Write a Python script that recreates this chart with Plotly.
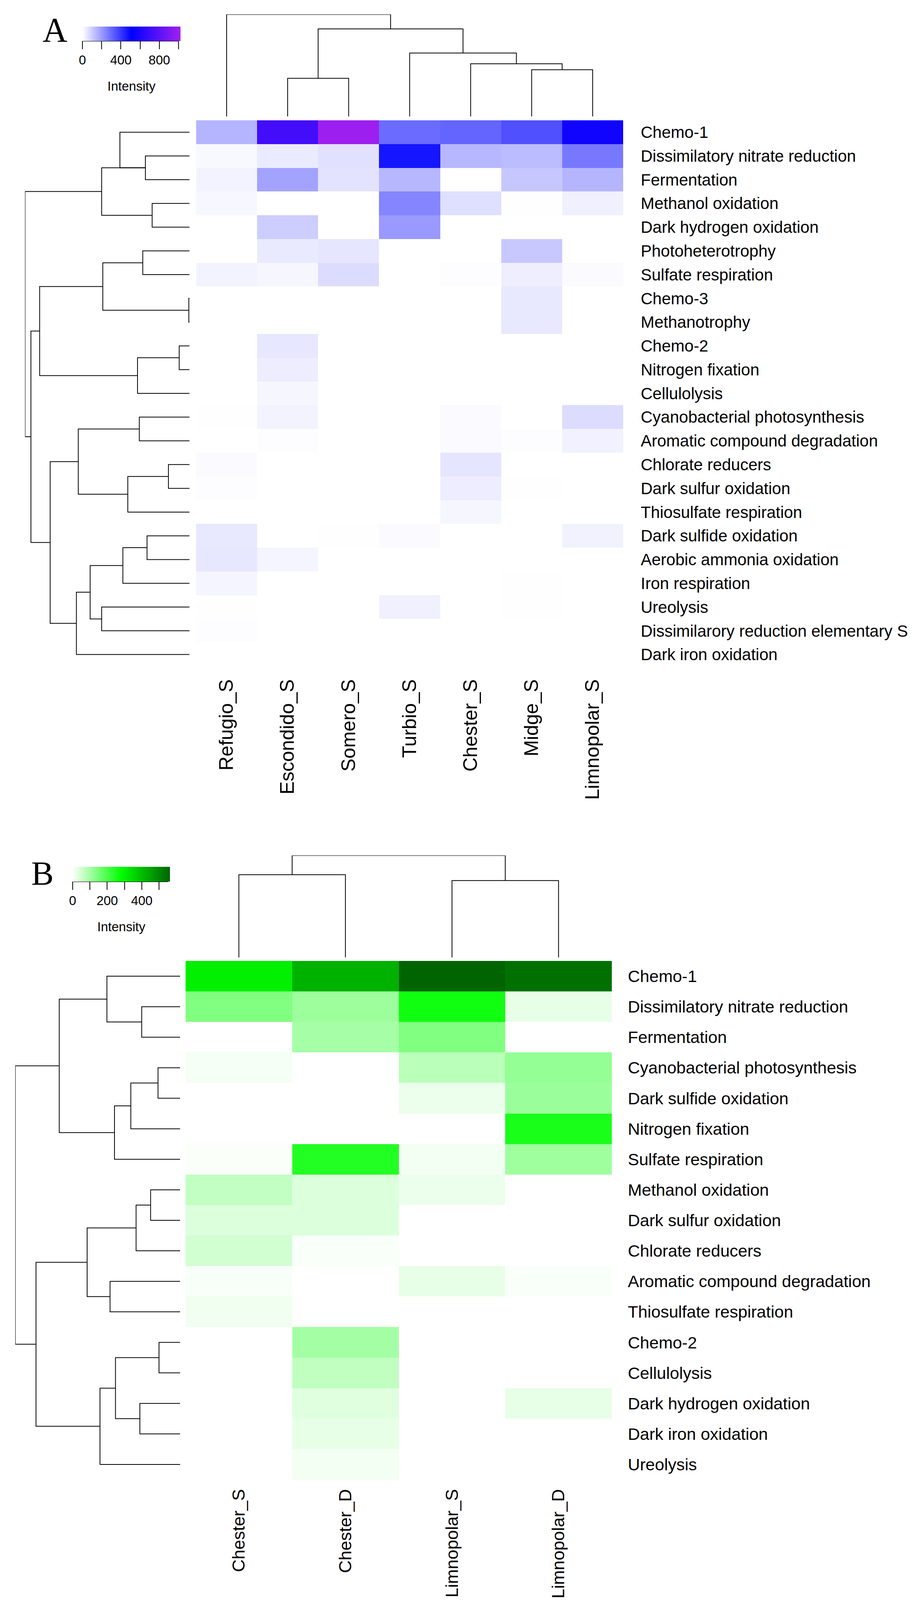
import plotly.graph_objects as go
import numpy as np

W, H = 2342, 4240

# ---------------- Panel A data ----------------
A_ROWS = ["Chemo-1", "Dissimilatory nitrate reduction", "Fermentation", "Methanol oxidation",
          "Dark hydrogen oxidation", "Photoheterotrophy", "Sulfate respiration", "Chemo-3",
          "Methanotrophy", "Chemo-2", "Nitrogen fixation", "Cellulolysis",
          "Cyanobacterial photosynthesis", "Aromatic compound degradation", "Chlorate reducers",
          "Dark sulfur oxidation", "Thiosulfate respiration", "Dark sulfide oxidation",
          "Aerobic ammonia oxidation", "Iron respiration", "Ureolysis",
          "Dissimilarory reduction elementary S", "Dark iron oxidation"]
A_COLS = ["Refugio_S", "Escondido_S", "Somero_S", "Turbio_S", "Chester_S", "Midge_S", "Limnopolar_S"]

A_REFUGIO_S    = [148, 15, 24, 16, 0, 1, 24, 0, 0, 0, 0, 0, 2, 0, 8, 4, 0, 46, 48, 20, 3, 4, 1]
A_ESCONDIDO_S  = [724, 40, 184, 1, 100, 42, 18, 0, 0, 48, 36, 18, 24, 4, 0, 0, 0, 0, 20, 0, 0, 0, 0]
A_SOMERO_S     = [1010, 60, 56, 0, 0, 50, 70, 0, 0, 0, 0, 0, 0, 0, 0, 0, 0, 3, 0, 0, 0, 0, 0]
A_TURBIO_S     = [296, 468, 144, 244, 204, 0, 0, 0, 0, 0, 0, 0, 0, 0, 0, 0, 0, 8, 0, 0, 30, 0, 0]
A_CHESTER_S    = [310, 144, 0, 64, 0, 0, 4, 0, 0, 0, 0, 0, 10, 10, 52, 36, 18, 0, 0, 0, 0, 0, 0]
A_MIDGE_S      = [350, 136, 112, 2, 0, 110, 34, 46, 46, 0, 0, 0, 0, 4, 0, 2, 0, 0, 0, 2, 2, 0, 0]
A_LIMNOPOLAR_S = [560, 270, 148, 30, 0, 0, 10, 0, 0, 0, 0, 0, 70, 28, 0, 0, 0, 26, 0, 0, 0, 0, 0]
A_MAX = 1020
A_KEY_TICKS = [0, 200, 400, 600, 800, 1000]
A_KEY_LABELS = ["0", "", "400", "", "800", ""]

# row dendrogram A (merge left, merge right, relative height); ids >= 23 are clusters
A_ROW_LEFT   = [1, 0, 3, 23, 5, 7, 27, 9, 30, 29, 12, 14, 34, 33, 17, 37, 20, 38, 40, 36, 32, 26]
A_ROW_RIGHT  = [2, 23, 4, 25, 6, 8, 28, 10, 11, 31, 13, 15, 16, 35, 18, 19, 21, 39, 22, 41, 42, 43]
A_ROW_HEIGHT = [0.268, 0.423, 0.227, 0.534, 0.284, 0.004, 0.527, 0.0625, 0.316, 0.911, 0.305,
                0.128, 0.375, 0.676, 0.258, 0.405, 0.534, 0.604, 0.6875, 0.847, 0.964, 1.0]
# column dendrogram A; ids >= 7 are clusters
A_COL_LEFT   = [1, 5, 4, 3, 7, 0]
A_COL_RIGHT  = [2, 6, 8, 9, 10, 11]
A_COL_HEIGHT = [0.374, 0.458, 0.516, 0.622, 0.858, 1.0]

# ---------------- Panel B data ----------------
B_ROWS = ["Chemo-1", "Dissimilatory nitrate reduction", "Fermentation",
          "Cyanobacterial photosynthesis", "Dark sulfide oxidation", "Nitrogen fixation",
          "Sulfate respiration", "Methanol oxidation", "Dark sulfur oxidation",
          "Chlorate reducers", "Aromatic compound degradation", "Thiosulfate respiration",
          "Chemo-2", "Cellulolysis", "Dark hydrogen oxidation", "Dark iron oxidation", "Ureolysis"]
B_COLS = ["Chester_S", "Chester_D", "Limnopolar_S", "Limnopolar_D"]

B_CHESTER_S    = [308, 140, 0, 11, 0, 0, 6, 67, 39, 50, 8, 17, 0, 0, 0, 0, 0]
B_CHESTER_D    = [421, 109, 98, 0, 0, 0, 244, 39, 39, 7, 0, 0, 101, 70, 35, 27, 14]
B_LIMNOPOLAR_S = [563, 264, 140, 76, 21, 0, 13, 21, 0, 0, 27, 0, 0, 0, 0, 0, 0]
B_LIMNOPOLAR_D = [540, 27, 0, 118, 112, 253, 106, 0, 0, 0, 7, 0, 0, 0, 27, 0, 0]
B_MAX = 563
B_KEY_TICKS = [0, 100, 200, 300, 400, 500]
B_KEY_LABELS = ["0", "", "200", "", "400", ""]

B_ROW_LEFT   = [1, 0, 3, 19, 20, 18, 7, 23, 10, 24, 12, 14, 27, 29, 26, 22]
B_ROW_RIGHT  = [2, 17, 4, 5, 6, 21, 8, 9, 11, 25, 13, 15, 28, 16, 30, 31]
B_ROW_HEIGHT = [0.233, 0.444, 0.134, 0.299, 0.398, 0.733, 0.179, 0.267, 0.425, 0.564,
                0.128, 0.244, 0.392, 0.486, 0.874, 1.0]
B_COL_LEFT   = [0, 2, 4]
B_COL_RIGHT  = [1, 3, 5]
B_COL_HEIGHT = [0.811, 0.754, 1.0]

# ---------------- helpers ----------------
def fx(x):
    return x / W

def fy(y):
    return 1 - y / H

def dendro(n, left, right, height):
    pos = {i: float(i) for i in range(n)}
    hh = {i: 0.0 for i in range(n)}
    p, h = [], []
    for k, (l, r, ht) in enumerate(zip(left, right, height)):
        p += [pos[l], pos[l], pos[r], pos[r], None]
        h += [hh[l], ht, ht, hh[r], None]
        pos[n + k] = (pos[l] + pos[r]) / 2
        hh[n + k] = ht
    return p, h

FONT = "Liberation Sans, Arial, sans-serif"
SERIF = "Liberation Serif, Times New Roman, serif"
LINE = dict(color="black", width=2)

fig = go.Figure()
layout = dict(width=W, height=H, margin=dict(l=0, r=0, t=0, b=0), template="none",
              paper_bgcolor="white", plot_bgcolor="rgba(0,0,0,0)", showlegend=False,
              font=dict(family=FONT, color="black"))
annotations = []
shapes = []

def panel(ax, rows, cols, z, zmax, cscale, box, coldend, rowdend, key, ticks, ticklabels,
          rowfont, colfont, rowstand, colstand):
    i1, i2, i3 = ax, ax + 1, ax + 2
    x0, x1, y0, y1 = box  # heatmap pixel box
    nr, nc = len(rows), len(cols)
    s = lambda i: "" if i == 1 else str(i)
    kx0, kx1, ky0, ky1 = key
    fig.add_trace(go.Heatmap(
        z=z, x=list(range(nc)), y=list(range(nr)), zmin=0, zmax=zmax, colorscale=cscale,
        xaxis="x" + s(i1), yaxis="y" + s(i1), hoverinfo="skip",
        colorbar=dict(orientation="h", x=fx((kx0 + kx1) / 2), xanchor="center",
                      y=fy(ky0), yanchor="top", len=kx1 - kx0, lenmode="pixels",
                      thickness=ky1 - ky0, xpad=0, ypad=0, outlinewidth=0,
                      ticks="outside", ticklen=21, tickwidth=2, tickcolor="black",
                      tickvals=ticks, ticktext=ticklabels,
                      tickfont=dict(size=33, family=FONT, color="black"))))
    annotations.append(dict(text="Intensity", x=fx((kx0 + kx1) / 2), y=fy(ky1 + 116),
                            xref="paper", yref="paper", xanchor="center", yanchor="middle",
                            showarrow=False, font=dict(size=33, family=FONT, color="black")))
    shapes.append(dict(type="line", xref="paper", yref="paper", x0=fx(kx0), x1=fx(kx1 - 5),
                       y0=fy(ky1), y1=fy(ky1), line=dict(color="black", width=2)))
    layout["xaxis" + s(i1)] = dict(domain=[fx(x0), fx(x1)], range=[-0.5, nc - 0.5], anchor="y" + s(i1),
                                   tickvals=list(range(nc)), ticktext=cols, side="bottom", tickangle=-90,
                                   ticks="", showgrid=False, zeroline=False, showline=False,
                                   ticklabelstandoff=colstand, tickfont=dict(size=colfont),
                                   automargin=False)
    layout["yaxis" + s(i1)] = dict(domain=[fy(y1), fy(y0)], range=[nr - 0.5, -0.5], anchor="x" + s(i1),
                                   tickvals=list(range(nr)), ticktext=rows, side="right",
                                   ticks="", showgrid=False, zeroline=False, showline=False,
                                   ticklabelstandoff=rowstand, tickfont=dict(size=rowfont),
                                   automargin=False)
    # column dendrogram
    cl, cr, ch, cy_root, cy_leaf = coldend
    p, h = dendro(nc, cl, cr, ch)
    fig.add_trace(go.Scatter(x=p, y=h, mode="lines", line=LINE, hoverinfo="skip",
                             xaxis="x" + s(i2), yaxis="y" + s(i2)))
    layout["xaxis" + s(i2)] = dict(domain=[fx(x0), fx(x1)], range=[-0.5, nc - 0.5], anchor="y" + s(i2),
                                   visible=False)
    layout["yaxis" + s(i2)] = dict(domain=[fy(cy_leaf), fy(cy_root)], range=[0, 1], anchor="x" + s(i2),
                                   visible=False)
    # row dendrogram
    rl, rr, rh, rx_root, rx_leaf = rowdend
    p, h = dendro(nr, rl, rr, rh)
    fig.add_trace(go.Scatter(x=h, y=p, mode="lines", line=LINE, hoverinfo="skip",
                             xaxis="x" + s(i3), yaxis="y" + s(i3)))
    layout["xaxis" + s(i3)] = dict(domain=[fx(rx_root), fx(rx_leaf)], range=[1, 0], anchor="y" + s(i3),
                                   visible=False)
    layout["yaxis" + s(i3)] = dict(domain=[fy(y1), fy(y0)], range=[nr - 0.5, -0.5], anchor="x" + s(i3),
                                   visible=False)

zA = np.column_stack([A_REFUGIO_S, A_ESCONDIDO_S, A_SOMERO_S, A_TURBIO_S, A_CHESTER_S,
                      A_MIDGE_S, A_LIMNOPOLAR_S])
zB = np.column_stack([B_CHESTER_S, B_CHESTER_D, B_LIMNOPOLAR_S, B_LIMNOPOLAR_D])

panel(1, A_ROWS, A_COLS, zA, A_MAX, [[0, "#FFFFFF"], [0.5, "#0000FF"], [1, "#A020F0"]],
      (494, 1587, 300, 1698),
      (A_COL_LEFT, A_COL_RIGHT, A_COL_HEIGHT, 29, 290),
      (A_ROW_LEFT, A_ROW_RIGHT, A_ROW_HEIGHT, 56, 477),
      (203, 454, 60, 97), A_KEY_TICKS, A_KEY_LABELS, 42, 50, 44, 22)

panel(4, B_ROWS, B_COLS, zB, B_MAX, [[0, "#FFFFFF"], [0.5, "#00FF00"], [1, "#006400"]],
      (467, 1558, 2452, 3780),
      (B_COL_LEFT, B_COL_RIGHT, B_COL_HEIGHT, 2182, 2443),
      (B_ROW_LEFT, B_ROW_RIGHT, B_ROW_HEIGHT, 31, 453),
      (178, 427, 2211, 2249), B_KEY_TICKS, B_KEY_LABELS, 43, 45, 40, 14)

annotations += [
    dict(text="A", x=fx(133), y=fy(68), xref="paper", yref="paper", xanchor="center", yanchor="middle",
         showarrow=False, font=dict(family=SERIF, size=88, color="black")),
    dict(text="B", x=fx(100), y=fy(2228), xref="paper", yref="paper", xanchor="center", yanchor="middle",
         showarrow=False, font=dict(family=SERIF, size=86, color="black")),
]
layout["annotations"] = annotations
layout["shapes"] = shapes
fig.update_layout(**layout)
fig.write_html("out.html")
